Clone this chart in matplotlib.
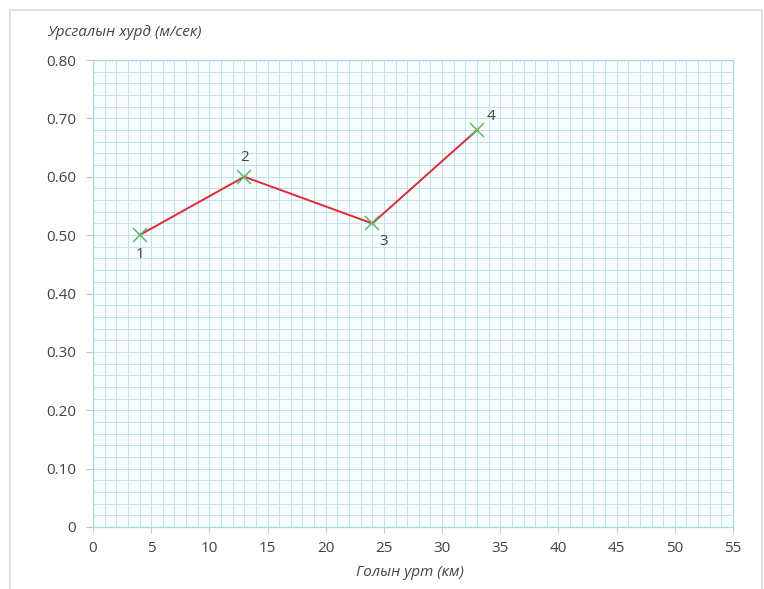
import matplotlib.pyplot as plt
from matplotlib.patches import Rectangle
import numpy as np

# данные с графика
urt_km = [4, 13, 24, 33]
hurd = [0.50, 0.60, 0.52, 0.68]
tseg_ner = ['1', '2', '3', '4']
x_ticks = [0, 5, 10, 15, 20, 25, 30, 35, 40, 45, 50, 55]
y_ticks = [0, 0.1, 0.2, 0.3, 0.4, 0.5, 0.6, 0.7, 0.8]
y_tick_labels = ['0', '0.10', '0.20', '0.30', '0.40', '0.50', '0.60', '0.70', '0.80']

plt.rcParams['font.family'] = ['Open Sans', 'DejaVu Sans']

grid_col = '#bde3ea'
spine_col = '#a6d8e3'
text_col = '#444444'

fig = plt.figure(figsize=(7.64, 5.89), dpi=100)
fig.patches.append(Rectangle((10 / 764, -0.01), 752 / 764, 1 - 10 / 589 + 0.01,
                             transform=fig.transFigure, fill=False,
                             edgecolor='#dadada', linewidth=1.2))
ax = fig.add_axes([93 / 764, 62 / 589, 640 / 764, 467 / 589])
ax.set_facecolor('#f8fcfd')

ax.set_xlim(0, 55)
ax.set_ylim(0, 0.8)
ax.set_xticks(np.arange(0, 55.1, 1), minor=True)
ax.set_yticks(np.arange(0, 0.801, 0.02), minor=True)
ax.set_xticks(x_ticks)
ax.set_yticks(y_ticks)
ax.set_yticklabels(y_tick_labels)
ax.grid(True, which='both', color=grid_col, linewidth=0.7)
ax.set_axisbelow(True)

for s in ax.spines.values():
    s.set_color(spine_col)
    s.set_linewidth(0.9)

ax.tick_params(which='minor', length=0)
ax.tick_params(axis='x', which='major', colors=spine_col, length=4, labelcolor=text_col,
               labelsize=11, pad=6)
ax.tick_params(axis='y', which='major', colors='#c4c4c4', length=5, labelcolor=text_col,
               labelsize=11, pad=7)

ax.plot(urt_km, hurd, color='#dd2a3a', linewidth=1.4, zorder=3)
ax.plot(urt_km, hurd, linestyle='none', marker='x', markersize=10,
        markeredgewidth=1.1, color='#5cb85c', zorder=4)

offsets = [(0, -14), (0, 14), (8, -13), (10, 10)]
for x, y, t, (dx, dy) in zip(urt_km, hurd, tseg_ner, offsets):
    ax.annotate(t, (x, y), xytext=(dx, dy), textcoords='offset points',
                ha='center', va='center', fontsize=11, color=text_col)

fig.text(47 / 764, 1 - 32 / 589, 'Урсгалын хурд (м/сек)', style='italic',
         fontsize=11, color=text_col, ha='left', va='center')
fig.text(410 / 764, 1 - 572 / 589, 'Голын урт (км)', style='italic',
         fontsize=11, color=text_col, ha='center', va='center')

fig.savefig('out.png', dpi=100, facecolor='white')
